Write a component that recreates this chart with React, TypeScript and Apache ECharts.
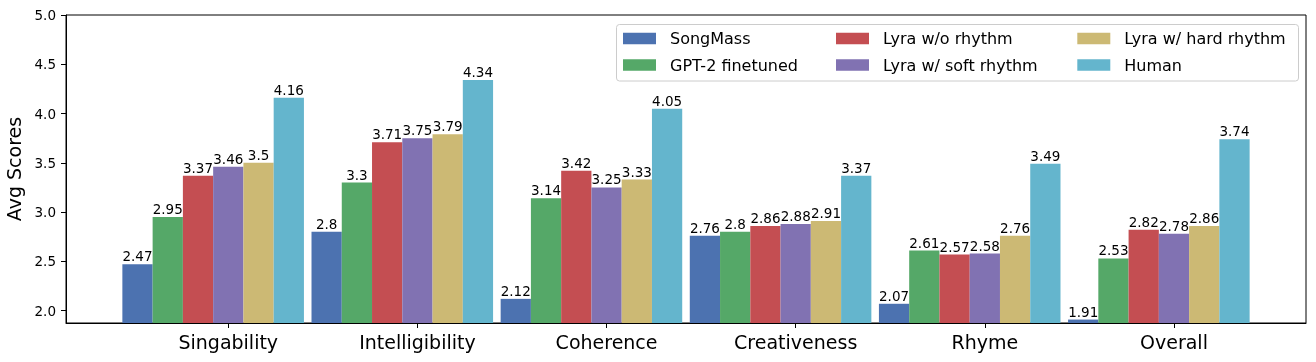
import React, { useEffect, useRef } from "react";
import * as echarts from "echarts";

const categories = ["Singability", "Intelligibility", "Coherence", "Creativeness", "Rhyme", "Overall"];
const seriesNames = [
  "SongMass",
  "GPT-2 finetuned",
  "Lyra w/o rhythm",
  "Lyra w/ soft rhythm",
  "Lyra w/ hard rhythm",
  "Human",
];
const songMass = [2.47, 2.8, 2.12, 2.76, 2.07, 1.91];
const gpt2 = [2.95, 3.3, 3.14, 2.8, 2.61, 2.53];
const lyraNoRhythm = [3.37, 3.71, 3.42, 2.86, 2.57, 2.82];
const lyraSoft = [3.46, 3.75, 3.25, 2.88, 2.58, 2.78];
const lyraHard = [3.5, 3.79, 3.33, 2.91, 2.76, 2.86];
const human = [4.16, 4.34, 4.05, 3.37, 3.49, 3.74];
const yTicks = [2.0, 2.5, 3.0, 3.5, 4.0, 4.5, 5.0];

const allValues = [songMass, gpt2, lyraNoRhythm, lyraSoft, lyraHard, human];
const colors = ["#4C72B0", "#55A868", "#C44E52", "#8172B2", "#CCB974", "#64B5CD"];

const FONT = "DejaVu Sans";
const BAR_W = 0.16;

export default function App() {
  const ref = useRef<HTMLDivElement>(null);
  useEffect(() => {
    if (!ref.current) return;
    const chart = echarts.init(ref.current, undefined, { renderer: "svg" });
    const series = allValues.map((vals, k) => ({
      name: seriesNames[k],
      type: "bar",
      barWidth: 30.26,
      barGap: "-100%",
      clip: true,
      itemStyle: { color: colors[k] },
      label: {
        show: true,
        position: "top",
        distance: 1,
        fontFamily: FONT,
        fontSize: 13.5,
        color: "#000",
        formatter: (p: any) => String(p.value[1]),
      },
      data: vals.map((v, i) => [i + (k - 3) * BAR_W, v]),
    }));
    const legendCols = [
      { left: 623, names: [seriesNames[0], seriesNames[1]] },
      { left: 836, names: [seriesNames[2], seriesNames[3]] },
      { left: 1077.3, names: [seriesNames[4], seriesNames[5]] },
    ];
    chart.setOption({
      animation: false,
      grid: {
        left: 66,
        top: 15,
        right: 10,
        bottom: 39,
        containLabel: false,
        outerBoundsMode: "none",
        show: true,
        borderColor: "#000",
        borderWidth: 1,
        backgroundColor: "transparent",
      },
      xAxis: {
        type: "value",
        min: -0.858,
        max: 5.698,
        splitLine: { show: false },
        axisLine: { show: true, onZero: false, lineStyle: { color: "#000", width: 1 } },
        axisTick: { show: true, length: 5, customValues: categories.map((_, i) => i), lineStyle: { color: "#000" } },
        axisLabel: {
          customValues: categories.map((_, i) => i),
          formatter: (v: number) => categories[Math.round(v)] ?? "",
          fontFamily: FONT,
          fontSize: 19,
          color: "#000",
          margin: 9,
        },
      },
      yAxis: {
        type: "value",
        min: 1.875,
        max: 5,
        name: "Avg Scores",
        nameLocation: "middle",
        nameGap: 37,
        nameTextStyle: { fontFamily: FONT, fontSize: 19, color: "#000" },
        splitLine: { show: false },
        axisLine: { show: true, onZero: false, lineStyle: { color: "#000", width: 1 } },
        axisTick: { show: true, length: 5, customValues: yTicks, lineStyle: { color: "#000" } },
        axisLabel: {
          customValues: yTicks,
          formatter: (v: number) => v.toFixed(1),
          fontFamily: FONT,
          fontSize: 13.5,
          color: "#000",
          margin: 10,
        },
      },
      legend: legendCols.map((c) => ({
        orient: "vertical",
        left: c.left,
        top: 30.5,
        padding: 0,
        itemWidth: 33,
        itemHeight: 11.5,
        itemGap: 10.5,
        selectedMode: false,
        data: c.names.map((n) => ({ name: n, icon: "rect" })),
        textStyle: {
          fontFamily: FONT,
          fontSize: 16,
          color: "#000",
          lineHeight: 16,
          padding: [0, 0, 0, 9],
        },
        z: 10,
      })),
      graphic: [
        {
          type: "rect",
          shape: { x: 616.5, y: 24.5, width: 682, height: 56.5, r: 3 },
          style: { fill: "rgba(255,255,255,0.8)", stroke: "#cccccc", lineWidth: 1 },
          z: 5,
        },
      ],
      series,
    });
    return () => chart.dispose();
  }, []);
  return <div ref={ref} style={{ position: "fixed", left: 0, top: 0, width: 1316, height: 362 }} />;
}
